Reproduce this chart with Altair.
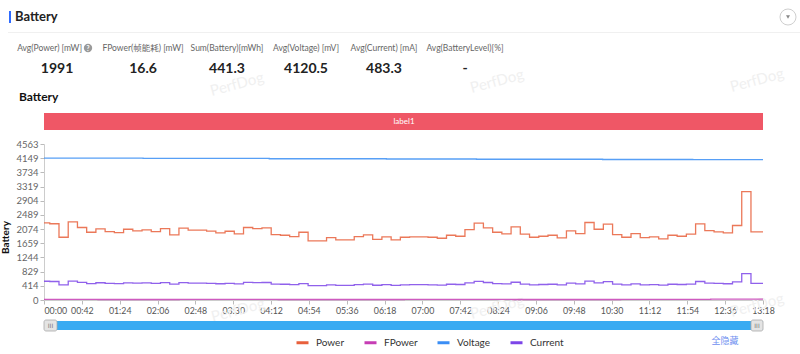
import altair as alt
import pandas as pd

# ---------------- data ----------------
series_names = ["Power", "FPower", "Voltage", "Current"]
series_colors = ["#e8603c", "#c63db4", "#3a8ef5", "#7c45e8"]

# Power [mW] read per ~10 s step
power = [2258, 2230, 1835, 2287, 2120, 1982, 2080, 2002, 1972, 2070, 2022,
         2051, 2002, 2090, 1904, 2100, 2041, 2041, 2012, 1963, 2011,
         1934, 2120, 2090, 2110, 1913, 1894, 1855, 1982, 1727, 1727,
         1825, 1757, 1757, 1855, 1904, 1776, 1845, 1757, 1835, 1845,
         1845, 1835, 1806, 1894, 1865, 2061, 2247, 2110, 1982, 1934,
         2139, 1924, 1835, 1865, 1894, 1815, 2022, 1943, 2267, 2070,
         2218, 1913, 1835, 1943, 1825, 1845, 1786, 1894, 1865, 1924,
         2228, 2031, 1992, 1963, 2179, 3170, 1992]
# Current [mA]
current = [548, 541, 445, 555, 515, 481, 505, 486, 479, 502, 491,
           498, 486, 507, 462, 510, 495, 495, 488, 476, 488,
           469, 515, 507, 512, 464, 460, 450, 481, 419, 419,
           443, 426, 426, 450, 462, 431, 448, 426, 445, 448,
           448, 445, 438, 460, 453, 500, 545, 512, 481, 469,
           519, 467, 445, 453, 460, 441, 491, 472, 550, 502,
           538, 464, 445, 472, 443, 448, 434, 460, 453, 467,
           541, 493, 484, 476, 529, 769, 484]
step_start = [0.0] + [round(6.4 + 10.24 * k, 2) for k in range(77)]
END = 798

voltage_t = [0, 110, 250, 380, 480, 620, 720]
voltage = [4149, 4141, 4132, 4124, 4117, 4110, 4104]
fpower_t = [0, 60, 150, 260, 400, 520, 640, 740]
fpower = [18, 14, 20, 15, 17, 14, 19, 24]

y_ticks = [0, 414, 829, 1244, 1659, 2074, 2489, 2904, 3319, 3734, 4149, 4563]
x_ticks = list(range(0, 799, 42))

stat_labels = ["Avg(Power) [mW]", "FPower(帧能耗) [mW]", "Sum(Battery)[mWh]",
               "Avg(Voltage) [mV]", "Avg(Current) [mA]", "Avg(BatteryLevel)[%]"]
stat_values = ["1991", "16.6", "441.3", "4120.5", "483.3", "-"]

rows = []
def add(name, ts, vs):
    for t, v in zip(list(ts) + [END], list(vs) + [vs[-1]]):
        rows.append({"t": t, "v": v, "series": name})
add("Power", step_start, power)
add("FPower", fpower_t, fpower)
add("Voltage", voltage_t, voltage)
add("Current", step_start, current)
df = pd.DataFrame(rows)

FONT = "Lato, Noto Sans CJK SC, sans-serif"
OX, OY = 44, 144  # plot origin in page pixels
W, H = 719, 156
one = pd.DataFrame({"a": [0]})

def txt(s, x, y, **kw):
    kw.setdefault("font", FONT)
    return alt.Chart(one).mark_text(text=s, **kw).encode(
        x=alt.value(x - OX), y=alt.value(y - OY))

def rect(x1, y1, x2, y2, **kw):
    return alt.Chart(one).mark_rect(**kw).encode(
        x=alt.value(x1 - OX), x2=alt.value(x2 - OX),
        y=alt.value(y1 - OY), y2=alt.value(y2 - OY))

layers = []
# watermarks
for wx, wy in [(237, 84), (497, 81), (757, 80), (238, 310), (497, 307), (757, 305)]:
    layers.append(txt("PerfDog", wx, wy, fontSize=15, angle=345, color="#f0f0f0"))

# header
layers.append(rect(9, 11, 11, 23, color="#2f6bff"))
layers.append(txt("Battery", 15, 17, align="left", baseline="middle",
                  fontSize=13, fontWeight="bold", color="#222"))
layers.append(rect(8, 32, 800, 33, color="#f0f0f0"))
layers.append(alt.Chart(one).mark_point(shape="circle", size=256, filled=True,
                                        fill="white", stroke="#bbbbbb", strokeWidth=1)
              .encode(x=alt.value(788 - OX), y=alt.value(17 - OY)))
layers.append(alt.Chart(one).mark_point(shape="triangle-down", size=16, filled=True,
                                        color="#555")
              .encode(x=alt.value(788 - OX), y=alt.value(17 - OY)))

# stats
stat_x = [53, 143, 227, 306, 384, 465]
for i, (lab, val, sx) in enumerate(zip(stat_labels, stat_values, stat_x)):
    if i == 0:
        layers.append(txt(lab, 82, 48, fontSize=8.5, color="#666", baseline="middle",
                          align="right"))
    else:
        layers.append(txt(lab, sx, 48, fontSize=8.5, color="#666", baseline="middle"))
    layers.append(txt(val, 57 if i == 0 else sx, 69, fontSize=14, fontWeight="bold",
                      color="#222", baseline="middle"))
layers.append(alt.Chart(one).mark_point(shape="circle", size=70, filled=True,
                                        color="#9a9a9a", opacity=1)
              .encode(x=alt.value(88 - OX), y=alt.value(48 - OY)))
layers.append(txt("?", 88, 48.5, fontSize=6.5, fontWeight="bold", color="white",
                  baseline="middle"))

# subtitle + label band
layers.append(txt("Battery", 19, 97, align="left", baseline="middle",
                  fontSize=12, fontWeight="bold", color="#111"))
layers.append(rect(44, 113, 763, 130, color="#ef5766"))
layers.append(txt("label1", 404, 121.5, fontSize=8, color="white", baseline="middle"))

# slider
layers.append(rect(45, 321, 763, 330, color="#3aabf2"))
for hx1, hx2 in [(44, 57), (751, 763)]:
    layers.append(rect(hx1, 320, hx2, 331, fill="#e4e4e4", stroke="#a8a8a8",
                       strokeWidth=0.8, cornerRadius=2))
    layers.append(txt("III", (hx1 + hx2) / 2, 325.5, fontSize=6, color="#777",
                      baseline="middle", font="DejaVu Sans"))

# "hide all"
layers.append(txt("全隐藏", 725, 341, fontSize=9, color="#6f8ff0", baseline="middle"))

lines = alt.Chart(df).mark_line(interpolate="step-after", strokeWidth=1.3,
                                opacity=0.85).encode(
    x=alt.X("t:Q", scale=alt.Scale(domain=[0, END], nice=False, zero=False),
            axis=alt.Axis(values=x_ticks, title=None, grid=False,
                          labelExpr="(floor(datum.value/60) < 10 ? '0' : '') + floor(datum.value/60) + ':' + (datum.value % 60 < 10 ? '0' : '') + (datum.value % 60)",
                          labelAlign={"expr": "datum.value == 0 ? 'left' : 'center'"},
                          labelFontSize=8.8, labelColor="#555", labelFont=FONT,
                          domainColor="#cccccc", tickColor="#bbbbbb", tickSize=4,
                          labelPadding=2)),
    y=alt.Y("v:Q", scale=alt.Scale(domain=[0, 4563], nice=False),
            axis=alt.Axis(values=y_ticks, title="Battery", grid=False, format="d",
                          labelFontSize=9.5, labelColor="#666", labelFont=FONT,
                          domainColor="#cccccc", tickColor="#bbbbbb", tickSize=4,
                          titleFont=FONT, titleFontSize=10, titleFontWeight="bold",
                          titleColor="#111", titleX=-34, titleY=93)),
    color=alt.Color("series:N",
                    scale=alt.Scale(domain=series_names, range=series_colors),
                    legend=alt.Legend(orient="none", legendX=251, legendY=191,
                                      direction="horizontal", title=None,
                                      symbolType="stroke", symbolSize=144,
                                      symbolStrokeWidth=3, symbolOpacity=1,
                                      labelFontSize=10,
                                      labelColor="#333", labelFont=FONT,
                                      labelOffset=6, columnPadding=13)),
    order=alt.value(0),
)

chart = alt.layer(*layers, lines).properties(
    width=W, height=H,
    padding={"left": OX, "top": OY, "right": 800 - OX - W, "bottom": 354 - OY - H},
    autosize=alt.AutoSizeParams(type="none"),
    background="white",
).configure_view(strokeWidth=0)

chart.save("out.html", embed_options={"renderer": "svg", "actions": False})
